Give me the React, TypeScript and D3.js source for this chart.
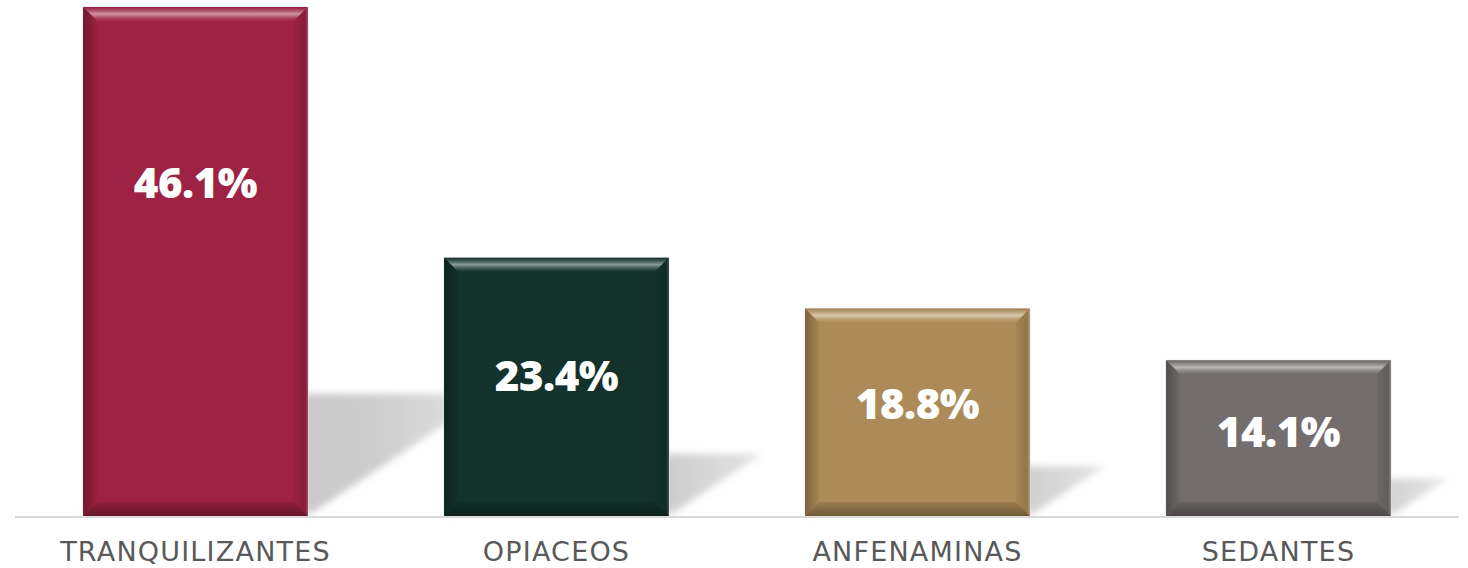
import React from "react";
import * as d3 from "d3";

const categories = ["TRANQUILIZANTES", "OPIACEOS", "ANFENAMINAS", "SEDANTES"];
const values = [46.1, 23.4, 18.8, 14.1];
const colors = ["#9e2244", "#13322b", "#ad8b58", "#736d6d"];

const W = 1468;
const H = 568;
const baseY = 516;
const topY = 7;
const bevel = 14;

const mix = (a: string, b: string, t: number) => d3.interpolateRgb(a, b)(t);

export default function App() {
  const x = d3.scaleBand<string>()
    .domain(categories)
    .range([15, 1459])
    .paddingInner(0.377)
    .paddingOuter(0.1885);
  const y = d3.scaleLinear()
    .domain([0, d3.max(values) as number])
    .range([baseY, topY]);
  const bw = x.bandwidth();

  const data = categories.map((c, i) => ({ c, v: values[i], color: colors[i], i }));

  return (
    <div style={{ position: "absolute", left: 0, top: 0 }}>
      <svg width={W} height={H} style={{ display: "block", background: "#fff" }}>
        <defs>
          <filter id="shadowBlur" x="-20%" y="-20%" width="140%" height="140%">
            <feGaussianBlur stdDeviation="3.5" />
          </filter>
          <linearGradient id="shadowFill" x1="0" y1="0" x2="1" y2="0">
            <stop offset="0%" stopColor="#c4c4c4" />
            <stop offset="70%" stopColor="#cccccc" />
            <stop offset="100%" stopColor="#e4e4e4" />
          </linearGradient>
          {data.map(d => (
            <React.Fragment key={d.c}>
              <linearGradient id={`top-${d.i}`} x1="0" y1="0" x2="0" y2="1">
                <stop offset="0%" stopColor={mix(d.color, "#000", 0.1)} />
                <stop offset="25%" stopColor={mix(d.color, "#fff", 0.2)} />
                <stop offset="50%" stopColor={mix(d.color, "#fff", 0.5)} />
                <stop offset="75%" stopColor={mix(d.color, "#fff", 0.2)} />
                <stop offset="100%" stopColor={d.color} />
              </linearGradient>
              <linearGradient id={`left-${d.i}`} x1="0" y1="0" x2="1" y2="0">
                <stop offset="0%" stopColor={mix(d.color, "#000", 0.28)} />
                <stop offset="100%" stopColor={mix(d.color, "#000", 0.04)} />
              </linearGradient>
              <linearGradient id={`right-${d.i}`} x1="0" y1="0" x2="1" y2="0">
                <stop offset="0%" stopColor={mix(d.color, "#000", 0.04)} />
                <stop offset="80%" stopColor={mix(d.color, "#000", 0.15)} />
                <stop offset="100%" stopColor={mix(d.color, "#fff", 0.15)} />
              </linearGradient>
              <linearGradient id={`bottom-${d.i}`} x1="0" y1="0" x2="0" y2="1">
                <stop offset="0%" stopColor={mix(d.color, "#000", 0.1)} />
                <stop offset="100%" stopColor={mix(d.color, "#000", 0.35)} />
              </linearGradient>
            </React.Fragment>
          ))}
        </defs>

        {/* cast shadows behind the bars */}
        {data.map(d => {
          const left = x(d.c) as number;
          const right = left + bw;
          const h = baseY - y(d.v);
          const hs = h * 0.24;
          const dx = hs * 1.5;
          const ts = baseY - hs;
          const pts = [
            [left + dx, ts],
            [right + dx, ts],
            [right + 4, baseY - 3],
            [left, baseY - 3],
          ];
          return (
            <polygon
              key={`s-${d.c}`}
              points={pts.map(p => p.join(",")).join(" ")}
              fill="url(#shadowFill)"
              filter="url(#shadowBlur)"
            />
          );
        })}

        {/* baseline */}
        <line x1={15} x2={1459} y1={baseY + 1} y2={baseY + 1} stroke="#d9d9d9" strokeWidth={2} />

        {/* bars with bevel */}
        {data.map(d => {
          const l = x(d.c) as number;
          const r = l + bw;
          const t = y(d.v);
          const b = baseY;
          const poly = (p: number[][]) => p.map(q => q.join(",")).join(" ");
          return (
            <g key={`b-${d.c}`}>
              <rect x={l} y={t} width={bw} height={b - t} fill={d.color} stroke="#e2e2e2" strokeWidth={1} />
              <polygon points={poly([[l, t], [r, t], [r - bevel, t + bevel], [l + bevel, t + bevel]])} fill={`url(#top-${d.i})`} />
              <polygon points={poly([[l, t], [l + bevel, t + bevel], [l + bevel, b - bevel], [l, b]])} fill={`url(#left-${d.i})`} />
              <polygon points={poly([[r, t], [r, b], [r - bevel, b - bevel], [r - bevel, t + bevel]])} fill={`url(#right-${d.i})`} />
              <polygon points={poly([[l, b], [l + bevel, b - bevel], [r - bevel, b - bevel], [r, b]])} fill={`url(#bottom-${d.i})`} />
            </g>
          );
        })}

        {/* value labels */}
        {data.map(d => {
          const t = y(d.v);
          const h = baseY - t;
          const cy = t + Math.min(h * 0.46, 176);
          return (
            <text
              key={`v-${d.c}`}
              x={(x(d.c) as number) + bw / 2}
              y={cy + 15}
              textAnchor="middle"
              fill="#ffffff"
              fontFamily="'Open Sans', sans-serif"
              fontWeight={800}
              fontSize={42}
              letterSpacing={-0.5}
            >
              {d.v.toFixed(1)}%
            </text>
          );
        })}

        {/* category labels */}
        {data.map(d => (
          <text
            key={`c-${d.c}`}
            x={(x(d.c) as number) + bw / 2}
            y={561}
            textAnchor="middle"
            fill="#595959"
            fontFamily="'DejaVu Sans', sans-serif"
            fontSize={27}
            letterSpacing={1.2}
          >
            {d.c}
          </text>
        ))}
      </svg>
    </div>
  );
}
